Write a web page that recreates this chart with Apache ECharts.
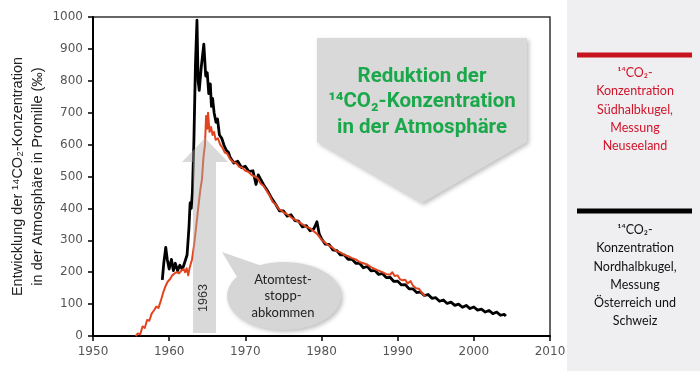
<!DOCTYPE html>
<html>
<head>
<meta charset="utf-8">
<script src="https://cdn.jsdelivr.net/npm/echarts@6/dist/echarts.min.js"></script>
<style>
html,body{margin:0;padding:0;background:#fff;}
#chart{width:700px;height:371px;}
</style>
</head>
<body>
<div id="chart"></div>
<script>
// ---- data ----
var xTicks = [1950, 1960, 1970, 1980, 1990, 2000, 2010];
var yTicks = [0, 100, 200, 300, 400, 500, 600, 700, 800, 900, 1000];

// Northern hemisphere (Austria / Switzerland) - black
var northYears = [1959.1,1959.3,1959.55,1959.75,1960.0,1960.3,1960.55,1960.8,1961.1,1961.4,1961.7,1961.85,1962.1,1962.35,1962.6,1962.75,1962.9,1963.05,1963.25,1963.45,1963.65,
  1963.8,1963.95,1964.2,1964.55,1964.8,1965.0,1965.2,1965.4,1965.55,1965.7,1965.9,1966.15,1966.35,1966.6,1966.9,1967.2,1967.5,1967.8,
  1968.0,1968.5,1969.0,1969.5,1970.0,1970.5,1971.0,1971.4,1971.7,1972.0,1972.5,1973.0,1973.5,1974.0,1974.5,1975.0,1975.5,1976.0,1976.5,1977.0,1977.5,1978.0,1978.5,1979.0,1979.4,1979.7,
  1980.0,1980.5,1981.0,1981.5,1982.0,1982.5,1983.0,1983.5,1984.0,1984.5,1985.0,1985.5,1986.0,1986.5,1987.0,1987.5,1988.0,1988.5,1989.0,1989.5,
  1990.0,1990.5,1991.0,1991.5,1992.0,1992.5,1993.0,1993.5,1994.0,1994.5,1995.0,1995.5,1996.0,1996.5,1997.0,1997.5,1998.0,1998.5,1999.0,1999.5,
  2000.0,2000.5,2001.0,2001.5,2002.0,2002.5,2003.0,2003.5,2004.0,2004.2];
var northValues = [176,230,278,240,210,240,205,228,205,222,210,217,235,254,340,417,400,450,614,850,990,
  800,770,840,915,815,825,760,790,720,745,700,670,680,630,620,598,582,575,
  560,542,548,528,532,515,518,475,505,492,470,452,430,412,392,392,376,380,362,360,342,346,330,336,358,320,
  305,288,287,270,268,254,254,240,241,228,228,214,218,204,206,193,196,183,184,171,
  172,160,161,148,148,136,138,127,130,118,120,109,113,102,106,96,100,90,96,86,
  91,81,84,75,80,70,75,65,68,62];

// Southern hemisphere (New Zealand) - red
var southYears = [1955.6,1955.9,1956.2,1956.5,1956.8,1957.1,1957.4,1957.7,1958.0,1958.3,1958.6,1958.9,1959.2,1959.5,1959.8,1960.1,1960.4,1960.7,1961.0,1961.3,1961.6,1961.9,1962.1,1962.3,1962.5,1962.7,
  1963.0,1963.3,1963.6,1963.9,1964.1,1964.3,1964.5,1964.7,1964.85,1965.0,1965.1,1965.3,1965.5,1965.7,1965.9,1966.1,1966.4,1966.7,1967.0,1967.3,1967.6,
  1968.0,1968.4,1968.8,1969.2,1969.6,1970.0,1970.4,1970.8,1971.2,1971.6,1972.0,1972.4,1972.8,1973.2,1973.6,1974.0,1974.4,1974.8,1975.2,1975.6,1976.0,1976.5,1977.0,1977.5,1978.0,1978.5,1979.0,1979.5,
  1980.0,1980.5,1981.0,1981.5,1982.0,1982.5,1983.0,1983.5,1984.0,1984.5,1985.0,1985.5,1986.0,1986.5,1987.0,1987.5,1988.0,1988.5,1989.0,1989.3,1989.6,
  1990.0,1990.3,1990.6,1991.0,1991.3,1991.7,1992.0,1992.4,1992.8,1993.2,1993.6];
var southValues = [0,8,5,30,25,50,48,70,80,92,88,110,135,155,170,178,190,196,200,196,205,210,200,212,190,215,
  240,290,355,420,460,490,560,600,690,650,700,640,655,630,640,615,620,600,590,575,572,
  555,545,542,530,528,518,515,505,500,495,478,470,455,440,420,412,398,392,385,380,372,365,358,350,342,338,328,318,
  302,292,283,276,266,262,254,250,244,240,232,228,224,216,210,205,200,194,192,200,188,
  190,178,175,176,165,172,158,150,148,135,125];

function pairs(xs, ys){ var out=[]; for(var i=0;i<xs.length;i++){ out.push([xs[i], ys[i]]); } return out; }

var chart = echarts.init(document.getElementById('chart'));
var legendFont = 'Lato, "Noto Sans", sans-serif';

chart.setOption({
  animation: false,
  backgroundColor: '#ffffff',
  grid: { left: 93, right: 150, top: 17, bottom: 35, show: true, borderColor: '#333', borderWidth: 1.5,
    backgroundColor: 'transparent', containLabel: false, outerBoundsMode: 'none' },
  xAxis: {
    type: 'value', min: xTicks[0], max: xTicks[xTicks.length-1], interval: 10,
    axisLine: { onZero: false, lineStyle: { color: '#000', width: 2 } },
    axisTick: { show: true, length: 5, lineStyle: { color: '#000', width: 1.5 } },
    axisLabel: { color: '#555', fontFamily: '"DejaVu Sans", sans-serif', fontSize: 12, margin: 10, formatter: function(v){ return String(v); } },
    splitLine: { show: false }
  },
  yAxis: {
    type: 'value', min: yTicks[0], max: yTicks[yTicks.length-1], interval: 100,
    name: 'Entwicklung der ¹⁴CO₂-Konzentration\nin der Atmosphäre in Promille (‰)',
    nameLocation: 'middle', nameRotate: 90, nameGap: 45, nameMoveOverlap: false,
    nameTextStyle: { color: '#222', fontFamily: '"Liberation Sans", Arial, sans-serif', fontSize: 14.5, lineHeight: 20 },
    axisLine: { lineStyle: { color: '#000', width: 2 } },
    axisTick: { show: true, length: 5, lineStyle: { color: '#000', width: 1.5 } },
    axisLabel: { color: '#555', fontFamily: '"DejaVu Sans", sans-serif', fontSize: 12, margin: 10, formatter: function(v){ return String(v); } },
    splitLine: { show: false }
  },
  series: [
    { name: 'Nord', type: 'line', data: pairs(northYears, northValues), showSymbol: false, symbol: 'none',
      lineStyle: { color: '#000', width: 2.8, join: 'round' }, z: 2 },
    { name: 'Süd', type: 'line', data: pairs(southYears, southValues), showSymbol: false, symbol: 'none',
      lineStyle: { color: '#e2441f', width: 2, join: 'round' }, z: 3 }
  ],
  graphic: [
    // right legend panel
    { type: 'rect', shape: { x: 567, y: 0, width: 133, height: 371 }, style: { fill: '#efeff1' }, z: 1 },
    { type: 'rect', shape: { x: 577, y: 52.5, width: 115, height: 5 }, style: { fill: '#c8121e' }, z: 2 },
    { type: 'text', x: 635, y: 64, z: 2, style: { text: '¹⁴CO₂-\nKonzentration\nSüdhalbkugel,\nMessung\nNeuseeland',
        fill: '#d0142a', font: '12.5px ' + legendFont, lineHeight: 18.3, align: 'center', verticalAlign: 'top' } },
    { type: 'rect', shape: { x: 577, y: 208.5, width: 115, height: 5 }, style: { fill: '#000' }, z: 2 },
    { type: 'text', x: 635, y: 221, z: 2, style: { text: '¹⁴CO₂-\nKonzentration\nNordhalbkugel,\nMessung\nÖsterreich und\nSchweiz',
        fill: '#111', font: '12.5px ' + legendFont, lineHeight: 18.2, align: 'center', verticalAlign: 'top' } },

    // big down arrow
    { type: 'polygon', z: 5, shape: { points: [[317,38],[527,38],[527,142],[422,203],[317,142]] },
      style: { fill: '#d9d9d9', shadowBlur: 4, shadowColor: 'rgba(0,0,0,0.25)', shadowOffsetX: 2, shadowOffsetY: 2 } },
    { type: 'text', x: 422, y: 64, z: 6, style: { text: 'Reduktion der\n¹⁴CO₂-Konzentration\nin der Atmosphäre',
        fill: '#1aa84b', font: 'bold 20.5px Roboto, sans-serif', lineHeight: 25.5, align: 'center', verticalAlign: 'top' } },

    // 1963 arrow (semi-transparent over lines)
    { type: 'polygon', z: 10, shape: { points: [[193,333],[193,162],[182,162],[205,138],[228,162],[216,162],[216,333]] },
      style: { fill: 'rgba(170,170,170,0.45)' } },
    { type: 'text', x: 204, y: 298, rotation: Math.PI/2, z: 11, style: { text: '1963', fill: '#333',
        font: '12.5px "Liberation Sans", Arial, sans-serif', align: 'center', verticalAlign: 'middle' } },

    // speech bubble
    { type: 'group', z: 5, children: [
      { type: 'ellipse', shape: { cx: 284, cy: 296, rx: 57, ry: 34 },
        style: { fill: '#d6d6d6', shadowBlur: 4, shadowColor: 'rgba(0,0,0,0.25)', shadowOffsetX: 2, shadowOffsetY: 2 } },
      { type: 'polygon', shape: { points: [[222,252],[262,266],[240,282]] }, style: { fill: '#d6d6d6' } },
      { type: 'text', x: 283, y: 296, style: { text: 'Atomtest-\nstopp-\nabkommen', fill: '#222',
          font: '13px ' + legendFont, lineHeight: 16.5, align: 'center', verticalAlign: 'middle' } }
    ] }
  ]
});
</script>
</body>
</html>
